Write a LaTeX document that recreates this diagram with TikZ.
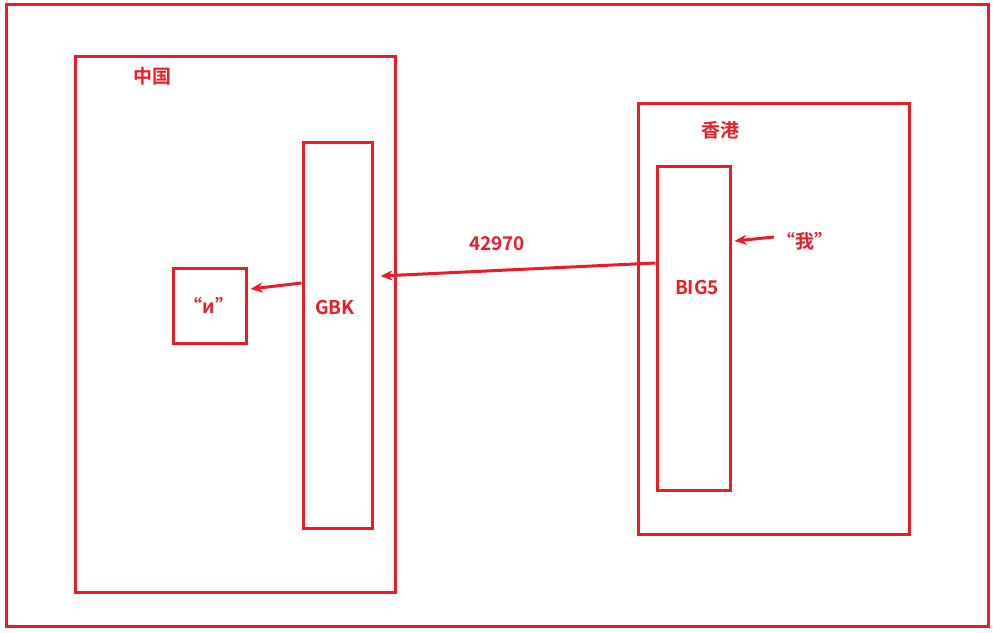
\documentclass[tikz,border=0pt]{standalone}
\usepackage{fontspec}
\setmainfont{Noto Sans CJK SC}[BoldFont={Noto Sans CJK SC Bold}]
\usetikzlibrary{arrows.meta,calc}
\definecolor{rd}{RGB}{237,28,36}
\tikzset{
  box/.style={draw=rd, line width=3bp, inner sep=0pt, rectangle},
  lbl/.style={text=rd, font=\fontsize{19}{21}\selectfont\bfseries, inner sep=0pt},
  arr/.style={draw=rd, line width=3bp, -{Stealth[length=12bp,width=10bp]}}
}
\begin{document}
\begin{tikzpicture}[x=1bp,y=-1bp]
\useasboundingbox (0,0) rectangle (993,633);
\node[box, minimum width=982bp, minimum height=622bp] (outer) at (497.5,315.5) {};
\node[box, minimum width=319bp, minimum height=535bp] (cn) at (235.5,324.5) {};
\node[box, minimum width=69bp, minimum height=385bp] (gbk) at (337.5,335.5) {};
\node[box, minimum width=73bp, minimum height=74bp] (ibox) at (209.5,306) {};
\node[box, minimum width=271bp, minimum height=430bp] (hk) at (773.5,319) {};
\node[box, minimum width=73bp, minimum height=323bp] (big5) at (693.5,328.5) {};
\node[lbl] (cnl) at (152,76) {中国};
\node[lbl] (hkl) at (720,130) {香港};
\node[lbl] (il) at (209,305) {“и”};
\node[lbl] (gbkl) at (335,307) {GBK};
\node[lbl] (num) at (497,244) {42970};
\node[lbl] (big5l) at (697,287) {BIG5};
\node[lbl] (wo) at (805,241) {“我”};
\coordinate (wostart) at (774,237);
\draw[arr] ($(big5.west)+(0,-65.5)$) -- ($(gbk.east)+(7,-59.5)$);
\draw[arr] ($(gbk.west)+(0,-52.5)$) -- ($(ibox.east)+(3,-17)$);
\draw[arr] (wostart) -- ($(big5.east)+(3,-87.5)$);
\end{tikzpicture}
\end{document}
